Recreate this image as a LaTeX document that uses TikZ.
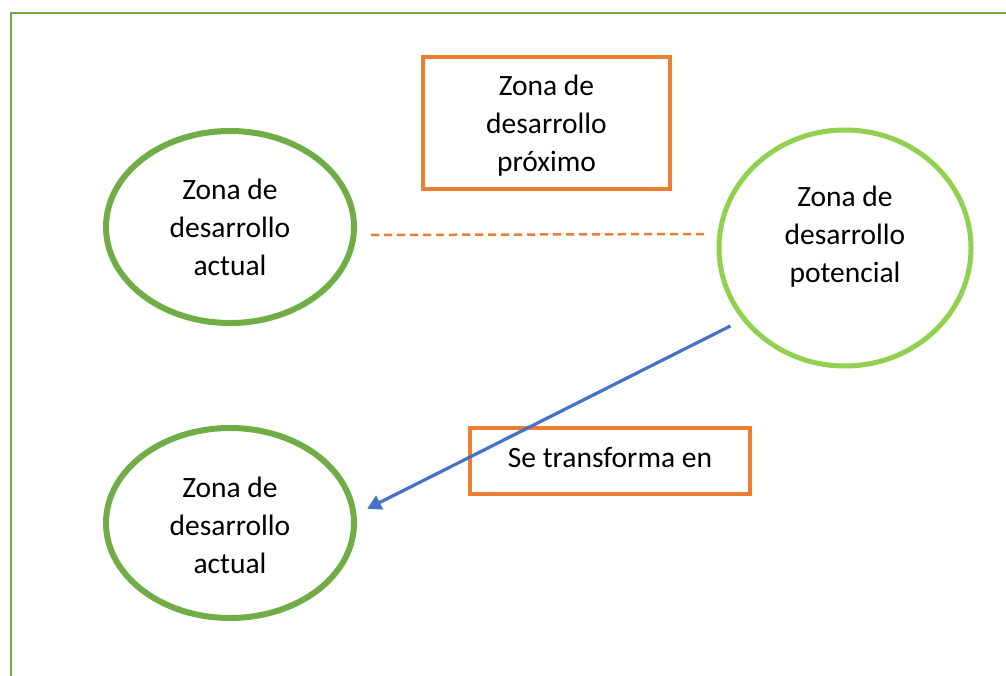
\documentclass[tikz,border=0pt]{standalone}
\usepackage{fontspec}
\setmainfont{Carlito}
\usetikzlibrary{shapes.geometric,arrows.meta}
\definecolor{dkgreen}{HTML}{70AD47}
\definecolor{ltgreen}{HTML}{92D050}
\definecolor{orng}{HTML}{ED7D31}
\definecolor{blu}{HTML}{4472C4}
\tikzset{
  zone/.style={ellipse, draw=dkgreen, line width=6pt, align=center, inner sep=0pt,
    font=\fontsize{29.5}{38}\selectfont},
  obox/.style={rectangle, draw=orng, line width=3.5pt, align=center, inner sep=0pt,
    font=\fontsize{29.5}{38}\selectfont},
  dashline/.style={draw=orng, line width=2.5pt, dash pattern=on 8pt off 5pt},
  arrowline/.style={draw=blu, line width=3.2pt, -{Triangle[length=14pt,width=15pt]}}
}
\newcommand{\lift}[2]{\raisebox{0pt}[\height][\dimexpr\depth+#1\relax]{#2}}
\newcommand{\drop}[2]{\raisebox{0pt}[\dimexpr\height+#1\relax][\depth]{#2}}
\begin{document}
\begin{tikzpicture}[x=1pt,y=-1pt]
\useasboundingbox (0,0) rectangle (1006,676);
\clip (0,0) rectangle (1006,676);
\fill[white] (0,0) rectangle (1006,676);
\draw[dkgreen, line width=2.5pt] (11,13) rectangle (1020,690);
\node[zone, minimum width=248pt, minimum height=192pt] (act1) at (230,227) {Zona de\\desarrollo\\actual};
\node[zone, draw=ltgreen, line width=5pt, minimum width=252pt, minimum height=236pt] (pot) at (845,248) {\lift{22pt}{\begin{tabular}{@{}c@{}}Zona de\\desarrollo\\potencial\end{tabular}}};
\node[zone, minimum width=248pt, minimum height=190pt] (act2) at (230,523) {\drop{10pt}{\begin{tabular}{@{}c@{}}Zona de\\desarrollo\\actual\end{tabular}}};
\node[obox, minimum width=247pt, minimum height=132pt] (zdp) at (546.5,123) {\drop{6pt}{\begin{tabular}{@{}c@{}}Zona de\\desarrollo\\próximo\end{tabular}}};
\node[obox, minimum width=280pt, minimum height=66pt] (trans) at (610,461) {\lift{7pt}{Se transforma en}};
\draw[dashline] ([shift={(14,8)}]act1.east) -- ([shift={(-11,-14)}]pot.west);
\draw[arrowline, shorten <=13pt, shorten >=12pt] (pot.215) -- (act2.4.5);
\end{tikzpicture}
\end{document}
